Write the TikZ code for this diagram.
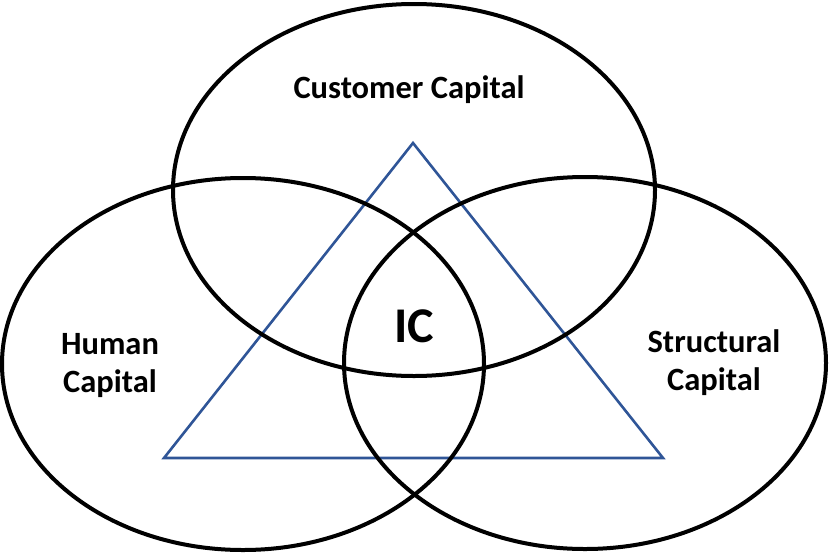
\documentclass[tikz,border=0pt]{standalone}
\usepackage{fontspec}
\setmainfont{Carlito}
\usetikzlibrary{shapes.geometric}
\definecolor{triblue}{RGB}{47,85,151}
\begin{document}
\begin{tikzpicture}[x=1pt,y=-1pt,
  ring/.style={draw=black,line width=4pt,ellipse,minimum width=482pt,minimum height=372pt,inner sep=0pt},
  lbl/.style={font=\fontsize{32.5}{38}\selectfont\bfseries,align=center,inner sep=0pt},
  tri/.style={draw=triblue,line width=2.6pt,line join=miter}]
\useasboundingbox (0,0) rectangle (829,554);
\coordinate (apex) at (413,143);
\coordinate (bl) at (164,458);
\coordinate (br) at (663,458);
\draw[tri] (apex) -- (bl) -- (br) -- cycle;
\node[ring] (cust) at (414,190) {};
\node[ring] (hum) at (243,364) {};
\node[ring] (str) at (585,363) {};
\node[lbl,anchor=base] (tcust) at (409,98) {Customer Capital};
\node[lbl,anchor=base] (thum) at (110,392) {Human\\Capital};
\node[lbl,anchor=base] (tstr) at (714,390) {Structural\\Capital};
\node[lbl,anchor=base,font=\fontsize{50}{60}\selectfont\bfseries] (tic) at (414,342) {IC};
\end{tikzpicture}
\end{document}
